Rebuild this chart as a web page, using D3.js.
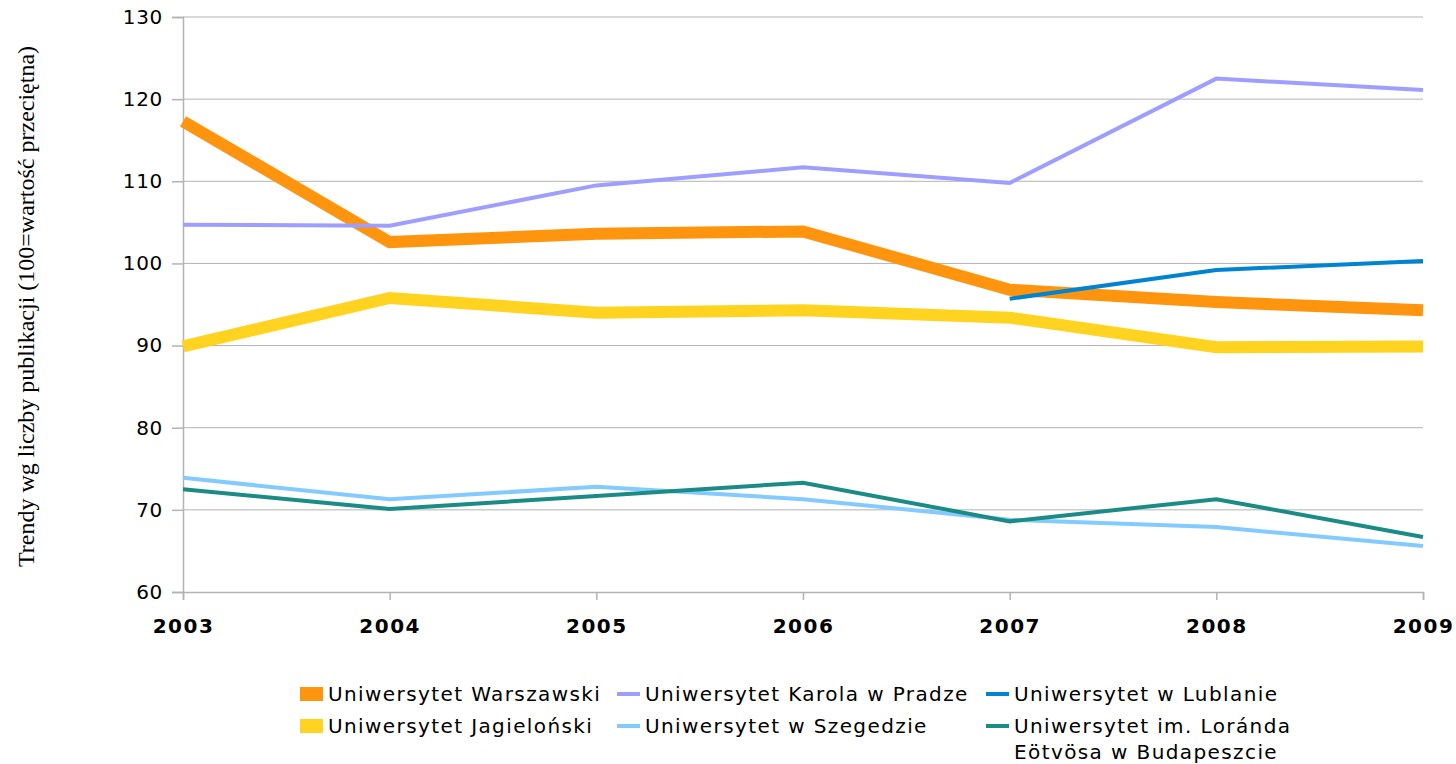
<!DOCTYPE html>
<html>
<head>
<meta charset="utf-8">
<script src="https://cdn.jsdelivr.net/npm/d3@7"></script>
<style>
  body { margin: 0; background: #fff; }
  svg { display: block; }
</style>
</head>
<body>
<div id="chart"></div>
<script>
const years = [2003, 2004, 2005, 2006, 2007, 2008, 2009]
const yTicks = [60, 70, 80, 90, 100, 110, 120, 130]

const warszawski = [117.3, 102.6, 103.6, 103.9, 96.8, 95.3, 94.3]
const karola = [104.7, 104.6, 109.5, 111.7, 109.8, 122.5, 121.1]
const lublana = [null, null, null, null, 95.7, 99.2, 100.3]
const jagiellonski = [89.9, 95.8, 94.0, 94.3, 93.4, 89.8, 89.9]
const szeged = [73.9, 71.3, 72.8, 71.3, 68.8, 67.9, 65.6]
const elte = [72.5, 70.1, 71.7, 73.3, 68.6, 71.3, 66.7]

const series = [
	{ name: ["Uniwersytet Warszawski"], values: warszawski, color: "#ff950e", width: 12, col: 0, row: 0 },
	{ name: ["Uniwersytet Karola w Pradze"], values: karola, color: "#9e9eff", width: 4, col: 1, row: 0 },
	{ name: ["Uniwersytet w Lublanie"], values: lublana, color: "#0084d1", width: 4, col: 2, row: 0 },
	{ name: ["Uniwersytet Jagieloński"], values: jagiellonski, color: "#ffd320", width: 12, col: 0, row: 1 },
	{ name: ["Uniwersytet w Szegedzie"], values: szeged, color: "#83caff", width: 4, col: 1, row: 1 },
	{ name: ["Uniwersytet im. Loránda", "Eötvösa w Budapeszcie"], values: elte, color: "#1b8b86", width: 4, col: 2, row: 1 },
]

const W = 1456, H = 764
const margin = { left: 183, right: 33, top: 17, bottom: 172 }
const sans = "'DejaVu Sans', Verdana, sans-serif"

const svg = d3.select("#chart").append("svg")
	.attr("width", W)
	.attr("height", H)

const x = d3.scaleLinear()
	.domain([2003, 2009])
	.range([margin.left, W - margin.right])

const y = d3.scaleLinear()
	.domain([60, 130])
	.range([H - margin.bottom, margin.top])

// gridlines
svg.append("g")
	.selectAll("line")
	.data(yTicks.slice(1))
	.enter()
	.append("line")
	.attr("x1", margin.left)
	.attr("x2", W - margin.right)
	.attr("y1", d => y(d))
	.attr("y2", d => y(d))
	.attr("stroke", "#b3b3b3")
	.attr("stroke-width", 1)

// y axis
const yAxis = svg.append("g")
	.attr("transform", `translate(${margin.left},0)`)
	.call(d3.axisLeft(y).tickValues(yTicks).tickSize(11).tickPadding(9).tickFormat(d3.format("d")))
yAxis.select(".domain").attr("stroke", "#b3b3b3").attr("stroke-width", 1.5)
yAxis.selectAll(".tick line").attr("stroke", "#b3b3b3").attr("stroke-width", 1.5)
yAxis.selectAll("text")
	.style("font-family", sans)
	.style("font-size", "20px")
	.style("letter-spacing", "0.7px")
	.attr("fill", "#000")

// x axis
const xAxis = svg.append("g")
	.attr("transform", `translate(0,${H - margin.bottom})`)
	.call(d3.axisBottom(x).tickValues(years).tickSize(8).tickPadding(19).tickFormat(d3.format("d")))
xAxis.select(".domain").attr("stroke", "#b3b3b3").attr("stroke-width", 1.5)
xAxis.selectAll(".tick line").attr("stroke", "#b3b3b3").attr("stroke-width", 1.5)
xAxis.selectAll("text")
	.style("font-family", sans)
	.style("font-size", "20px")
	.style("font-weight", "bold")
	.style("letter-spacing", "1.5px")
	.attr("fill", "#000")

// y title
svg.append("text")
	.attr("transform", `translate(34, ${(margin.top + H - margin.bottom) / 2 + 2}) rotate(-90)`)
	.attr("text-anchor", "middle")
	.style("font-family", "'Liberation Serif', 'Times New Roman', serif")
	.style("font-size", "24px")
	.text("Trendy wg liczby publikacji (100=wartość przeciętna)")

// lines
const line = d3.line()
	.defined(d => d != null)
	.x((d, i) => x(years[i]))
	.y(d => y(d))

svg.append("g")
	.selectAll("path")
	.data(series)
	.enter()
	.append("path")
	.attr("d", d => line(d.values))
	.attr("fill", "none")
	.attr("stroke", d => d.color)
	.attr("stroke-width", d => d.width)
	.attr("stroke-linejoin", "miter")
	.attr("stroke-linecap", "butt")

// legend
const colX = [300, 617, 986]
const rowY = [694, 726]
const lg = svg.append("g")
	.selectAll("g")
	.data(series)
	.enter()
	.append("g")
	.attr("transform", d => `translate(${colX[d.col]},${rowY[d.row]})`)

lg.append("rect")
	.attr("x", 0)
	.attr("width", 23)
	.attr("y", d => d.width > 6 ? -7 : -2)
	.attr("height", d => d.width > 6 ? 14 : 4)
	.attr("fill", d => d.color)

lg.append("text")
	.attr("x", 28)
	.attr("y", 7)
	.style("font-family", sans)
	.style("font-size", "20px")
	.style("letter-spacing", "1.4px")
	.selectAll("tspan")
	.data(d => d.name)
	.enter()
	.append("tspan")
	.attr("x", 28)
	.attr("dy", (d, i) => i === 0 ? 0 : 26)
	.text(d => d)
</script>
</body>
</html>
